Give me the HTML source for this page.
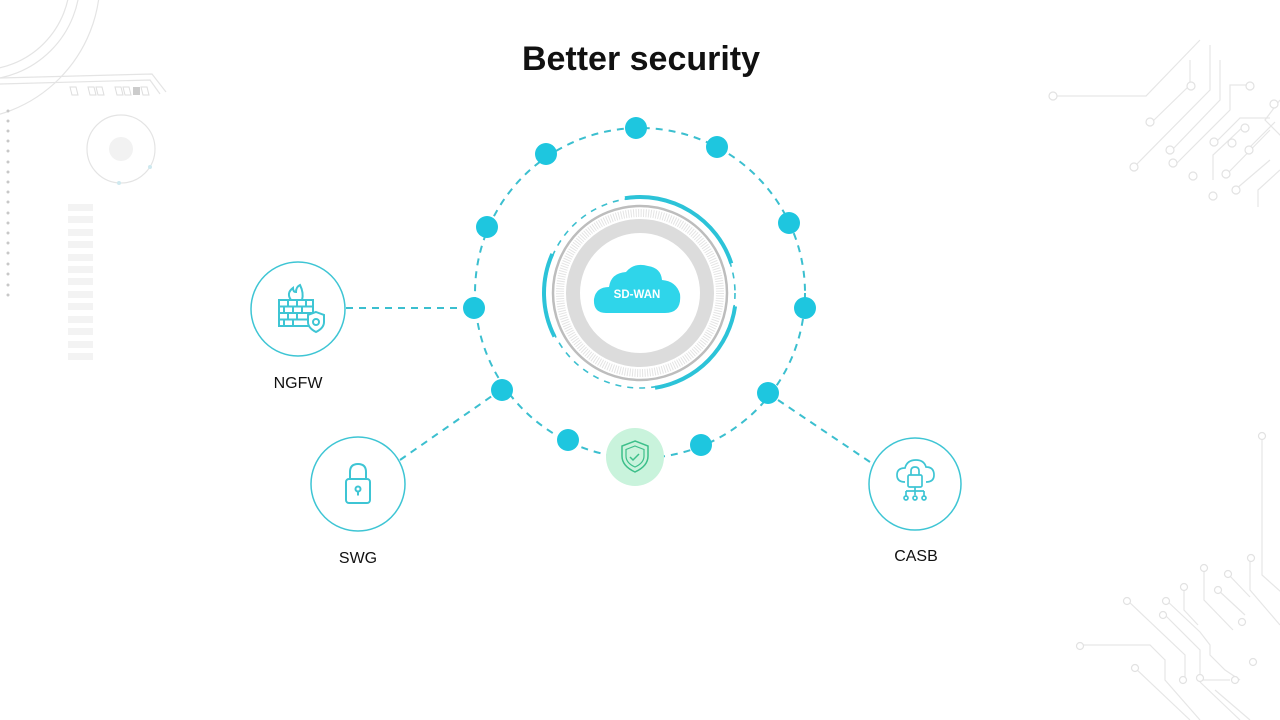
<!DOCTYPE html>
<html><head><meta charset="utf-8"><style>
html,body{margin:0;padding:0;background:#fff;}
svg{display:block;}
</style></head><body>
<svg width="1280" height="720" viewBox="0 0 1280 720" xmlns="http://www.w3.org/2000/svg">
<g fill="none" stroke="#e4e4e4" stroke-width="1.2">
  <circle cx="-20" cy="-20" r="90"/>
  <circle cx="-20" cy="-20" r="100"/>
  <circle cx="-40" cy="-20" r="140"/>
  <path d="M0 78 L152 74 L166 92 M0 84 L150 80 L160 94"/>
  <circle cx="121" cy="149" r="34"/>
</g>
<circle cx="121" cy="149" r="12" fill="#f2f2f2"/>
<circle cx="119" cy="183" r="2" fill="#cfe9ef"/><circle cx="150" cy="167" r="2" fill="#cfe9ef"/>
<g fill="none" stroke="#ddd"><path d="M70 87 h6 l2 8 h-6z M88 87h6l2 8h-6z M96 87h6l2 8h-6z M115 87h6l2 8h-6z M123 87h6l2 8h-6z M141 87h6l2 8h-6z"/></g>
<rect x="133" y="87" width="7" height="8" fill="#ccc"/>
<g fill="#c8c8c8">
<circle cx="8" cy="111" r="1.5"/><circle cx="8" cy="121" r="1.5"/><circle cx="8" cy="131" r="1.5"/><circle cx="8" cy="141" r="1.5"/><circle cx="8" cy="151" r="1.5"/><circle cx="8" cy="162" r="1.5"/><circle cx="8" cy="172" r="1.5"/><circle cx="8" cy="182" r="1.5"/><circle cx="8" cy="192" r="1.5"/><circle cx="8" cy="202" r="1.5"/><circle cx="8" cy="213" r="1.5"/><circle cx="8" cy="223" r="1.5"/><circle cx="8" cy="233" r="1.5"/><circle cx="8" cy="243" r="1.5"/><circle cx="8" cy="253" r="1.5"/><circle cx="8" cy="264" r="1.5"/><circle cx="8" cy="274" r="1.5"/><circle cx="8" cy="285" r="1.5"/><circle cx="8" cy="295" r="1.5"/>
</g>
<g fill="#f3f3f3">
<rect x="68" y="204" width="25" height="7"/><rect x="68" y="216" width="25" height="7"/><rect x="68" y="229" width="25" height="7"/><rect x="68" y="241" width="25" height="7"/><rect x="68" y="254" width="25" height="7"/><rect x="68" y="266" width="25" height="7"/><rect x="68" y="278" width="25" height="7"/><rect x="68" y="291" width="25" height="7"/><rect x="68" y="303" width="25" height="7"/><rect x="68" y="316" width="25" height="7"/><rect x="68" y="328" width="25" height="7"/><rect x="68" y="341" width="25" height="7"/><rect x="68" y="353" width="25" height="7"/>
</g>
<g fill="none" stroke="#e6e6e6" stroke-width="1.2">
<path d="M1057 96 H1146 L1200 40 M1152 122 L1190 85 V60 M1134 167 L1210 90 V45 M1172 150 L1220 100 V60 M1177 163 L1230 110 V85 H1250 M1215 143 L1240 118 H1270 M1213 180 V155 L1245 125 M1226 175 L1270 130 M1247 150 L1275 122 M1236 189 L1270 160 M1280 100 L1265 120 L1290 145 M1258 207 V190 L1280 170"/>
<path d="M1262 436 V575 L1290 600 M1250 555 V590 L1280 625 M1204 567 V600 L1233 630 M1228 574 L1250 597 M1218 590 L1245 615 M1184 587 V610 L1198 625 M1166 600 L1200 632 L1210 645 V655 L1225 670 L1240 680 M1165 615 L1200 650 V680 H1230 M1127 600 L1185 655 V680 M1080 645 H1150 L1165 660 V680 L1200 720 M1135 668 L1190 720 M1200 682 L1240 720 M1215 690 L1250 720"/>
</g>
<g fill="#fff" stroke="#e2e2e2" stroke-width="1.2">
<circle cx="1053" cy="96" r="4"/><circle cx="1150" cy="122" r="4"/><circle cx="1134" cy="167" r="4"/><circle cx="1191" cy="86" r="4"/><circle cx="1170" cy="150" r="4"/><circle cx="1173" cy="163" r="4"/><circle cx="1250" cy="86" r="4"/><circle cx="1214" cy="142" r="4"/><circle cx="1213" cy="196" r="4"/><circle cx="1232" cy="143" r="4"/><circle cx="1245" cy="128" r="4"/><circle cx="1226" cy="174" r="4"/><circle cx="1249" cy="150" r="4"/><circle cx="1236" cy="190" r="4"/><circle cx="1193" cy="176" r="4"/><circle cx="1274" cy="104" r="4"/><circle cx="1262" cy="436" r="3.5"/><circle cx="1251" cy="558" r="3.5"/><circle cx="1204" cy="568" r="3.5"/><circle cx="1228" cy="574" r="3.5"/><circle cx="1218" cy="590" r="3.5"/><circle cx="1184" cy="587" r="3.5"/><circle cx="1166" cy="601" r="3.5"/><circle cx="1127" cy="601" r="3.5"/><circle cx="1163" cy="615" r="3.5"/><circle cx="1080" cy="646" r="3.5"/><circle cx="1135" cy="668" r="3.5"/><circle cx="1183" cy="680" r="3.5"/><circle cx="1242" cy="622" r="3.5"/><circle cx="1200" cy="678" r="3.5"/><circle cx="1235" cy="680" r="3.5"/><circle cx="1253" cy="662" r="3.5"/>
</g>

<text x="641" y="70" text-anchor="middle" font-family="Liberation Sans, sans-serif" font-weight="bold" font-size="34" fill="#111">Better security</text>

<g stroke="#3bbfcf" stroke-width="2" stroke-dasharray="7 6" fill="none">
<circle cx="640" cy="293" r="165"/>
<line x1="346" y1="308" x2="463" y2="308"/>
<line x1="400" y1="460" x2="492" y2="396"/>
<line x1="870" y1="462" x2="778" y2="400"/>
<circle cx="640" cy="293" r="95" stroke-dasharray="6 6" stroke-width="1.6"/>
</g>
<circle cx="640" cy="293" r="87" fill="none" stroke="#bdbdbd" stroke-width="2.5"/>
<circle cx="640" cy="293" r="80" fill="none" stroke="#e4e4e4" stroke-width="8" stroke-dasharray="1 1.5"/>
<circle cx="640" cy="293" r="67" fill="none" stroke="#dcdcdc" stroke-width="14"/>
<circle cx="640" cy="293" r="59" fill="#fff"/>
<!-- solid cyan arcs r=96 -->
<path d="M624.98 198.18 A96 96 0 0 1 731.30 263.33" fill="none" stroke="#2cc3d8" stroke-width="4"/>
<path d="M735.07 306.36 A96 96 0 0 1 655.02 387.82" fill="none" stroke="#2cc3d8" stroke-width="4"/>
<path d="M552.30 253.95 A96 96 0 0 0 554.47 336.58" fill="none" stroke="#2cc3d8" stroke-width="4"/>
<path d="M606 313 Q593 313 594 299 Q596 287 609 287 Q611 273 626 272 Q634 262 648 266 Q661 268 662 280 Q676 281 680 294 Q682 313 665 313 Z" fill="#2fd5ea"/>
<text x="637" y="298" text-anchor="middle" font-family="Liberation Sans, sans-serif" font-weight="bold" font-size="11.5" fill="#fff">SD-WAN</text>

<g fill="#1ec6df">
<circle cx="636" cy="128" r="11"/><circle cx="546" cy="154" r="11"/><circle cx="717" cy="147" r="11"/>
<circle cx="487" cy="227" r="11"/><circle cx="789" cy="223" r="11"/><circle cx="474" cy="308" r="11"/>
<circle cx="805" cy="308" r="11"/><circle cx="502" cy="390" r="11"/><circle cx="768" cy="393" r="11"/>
<circle cx="568" cy="440" r="11"/><circle cx="701" cy="445" r="11"/>
</g>
<circle cx="635" cy="457" r="29" fill="#c9f3dc"/>
<path d="M635 441 L648 446 V456 Q648 466 635 472 Q622 466 622 456 V446 Z" fill="none" stroke="#3cbf8a" stroke-width="1.5"/>
<path d="M635 446 L644 449.5 V456 Q644 463 635 467 Q626 463 626 456 V449.5 Z" fill="none" stroke="#3cbf8a" stroke-width="1.2"/>
<path d="M630 457 l3 3 l6 -6" fill="none" stroke="#3cbf8a" stroke-width="1.5"/>

<g fill="#fff" stroke="#3ec5d4" stroke-width="1.5">
<circle cx="298" cy="309" r="47"/>
<circle cx="358" cy="484" r="47"/>
<circle cx="915" cy="484" r="46"/>
</g>
<g fill="none" stroke="#3ec5d4" stroke-width="2">
<rect x="279" y="300" width="34" height="26"/>
<path d="M279 306.5h34 M279 313h34 M279 319.5h34 M288 300v6.5 M297 300v6.5 M306 300v6.5 M284 306.5v6.5 M293 306.5v6.5 M302 306.5v6.5 M288 313v6.5 M297 313v6.5 M284 319.5v6.5 M293 319.5v6.5"/>
<path d="M291 300 Q286 293 293 288 Q293 292 296 292 Q296 287 300 285 Q304 293 302 300"/>
<path d="M316 312 L324 315 V322 Q324 328 316 332 Q308 328 308 322 V315 Z" fill="#fff"/>
<circle cx="316" cy="322" r="3"/>
</g>
<g fill="none" stroke="#3ec5d4" stroke-width="2">
<rect x="346" y="479" width="24" height="24" rx="3"/>
<path d="M350 479 V472 Q350 464 358 464 Q366 464 366 472 V479"/>
<circle cx="358" cy="489" r="2.5"/><path d="M358 491.5 v4"/>
</g>
<g fill="none" stroke="#3ec5d4" stroke-width="1.7">
<path d="M905 482 Q897 482 897 475 Q897 468 905 468 Q907 460 916 460 Q924 460 926 467 Q934 467 934 475 Q934 482 926 482"/>
<rect x="908" y="475" width="14" height="12" rx="1.5" fill="#fff"/>
<path d="M911 475 V471 Q911 467 915 467 Q919 467 919 471 V475"/>
<path d="M915 487 V495 M906 491 H924 M906 491 V496 M924 491 V496"/>
<circle cx="906" cy="498" r="2"/><circle cx="915" cy="498" r="2"/><circle cx="924" cy="498" r="2"/>
</g>

<g font-family="Liberation Sans, sans-serif" font-size="16" fill="#111" text-anchor="middle">
<text x="298" y="388">NGFW</text>
<text x="358" y="563">SWG</text>
<text x="916" y="561">CASB</text>
</g>
</svg>
</body></html>
